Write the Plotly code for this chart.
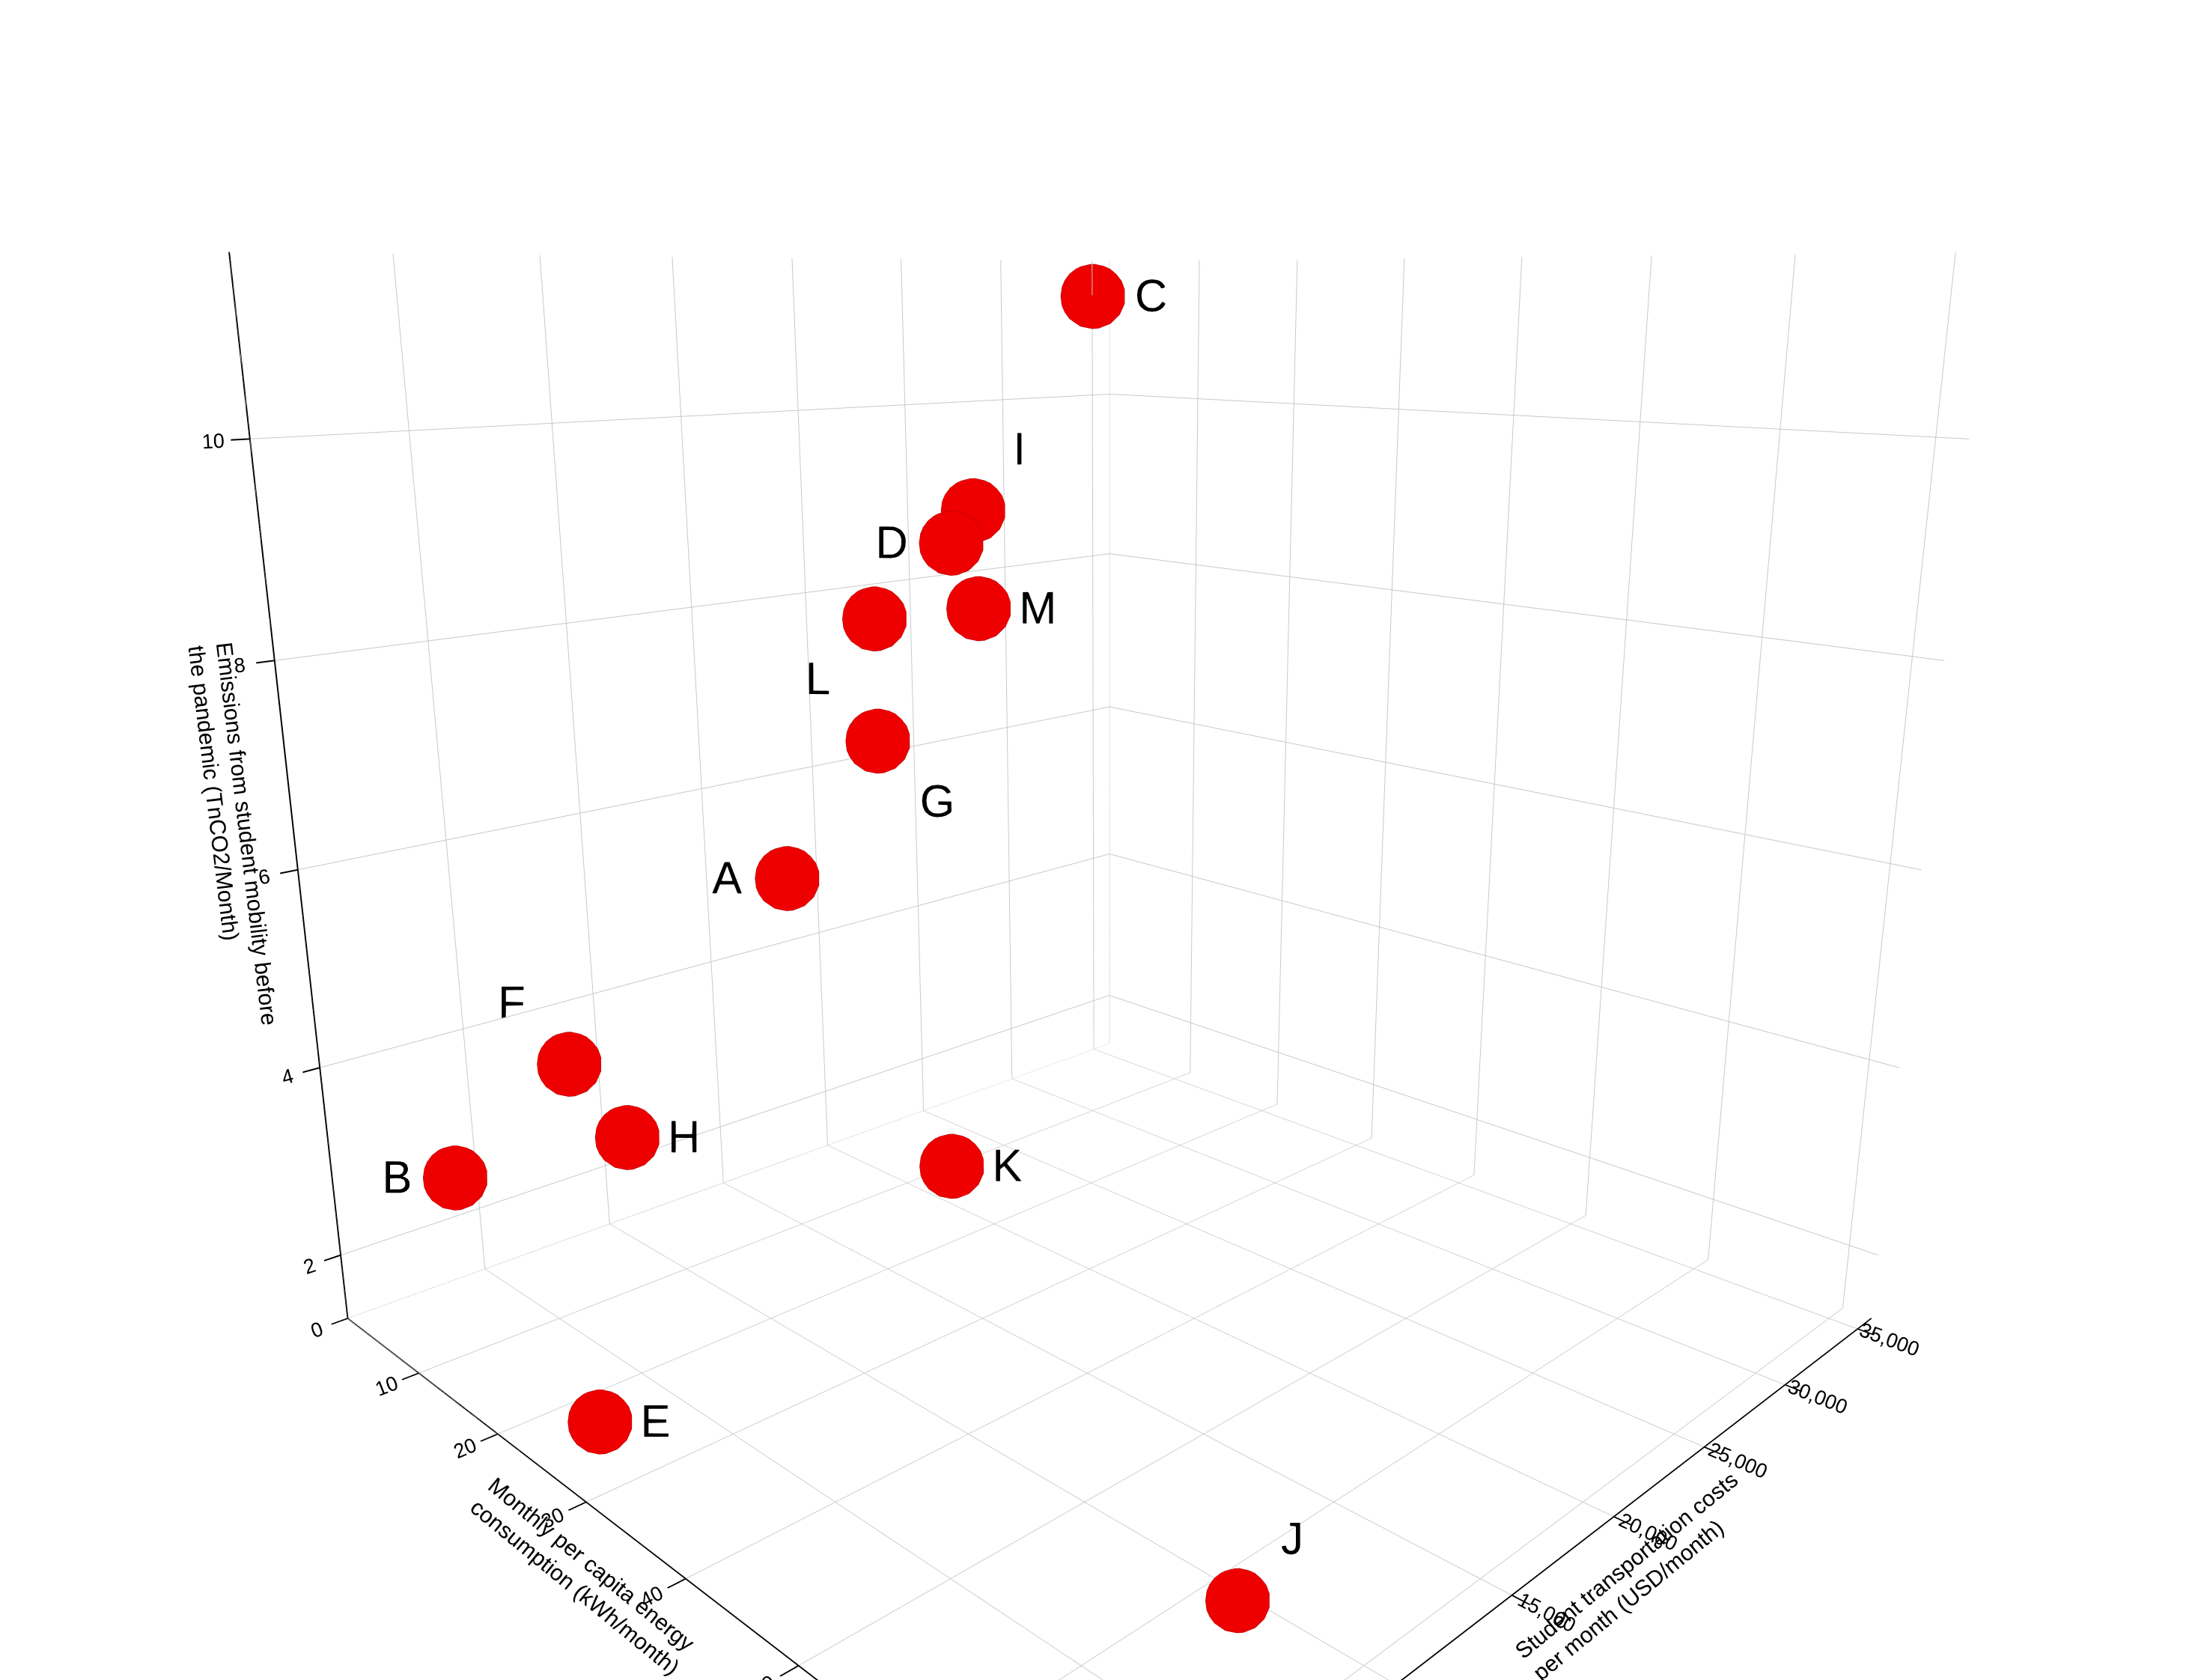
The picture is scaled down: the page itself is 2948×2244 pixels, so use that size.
import plotly.graph_objects as go

# Data (estimated)
labels = ["A", "B", "C", "D", "E", "F", "G", "H", "I", "J", "K", "L", "M"]
energy = [10, 5, 0, 5, 25, 3, 8, 10, 3, 65, 20, 3, 8]          # kWh/month
costs = [15000, 3000, 35000, 25000, 2000, 8000, 20000, 8000, 27000, 8000, 18000, 22000, 25000]
emissions = [5.3, 2.8, 11.2, 8.5, 1.5, 3.5, 6.5, 3.0, 8.8, 1.8, 2.2, 7.7, 7.8]
text_pos = ["middle left", "middle left", "middle right", "middle left", "middle right",
            "top left", "bottom right", "middle right", "top right", "top right",
            "middle right", "bottom left", "middle right"]

fig = go.Figure()
fig.add_trace(go.Scatter3d(
    x=energy, y=costs, z=emissions,
    mode="markers+text",
    text=labels,
    textposition=text_pos,
    textfont=dict(size=60, color="black", family="Liberation Sans"),
    marker=dict(size=50, color="#ee0000", line=dict(color="#aa0000", width=2), opacity=1),
))

axis_common = dict(
    showbackground=False,
    gridcolor="#c8c8c8",
    linecolor="black",
    linewidth=4,
    showline=True,
    ticks="outside",
    ticklen=20,
    tickwidth=4,
    tickcolor="black",
    tickfont=dict(size=18, family="Liberation Sans", color="black"),
)
title_font = dict(size=30, family="Liberation Sans", color="black")

fig.update_layout(
    width=2948, height=2244,
    paper_bgcolor="white",
    margin=dict(l=0, r=0, t=0, b=0),
    showlegend=False,
    font=dict(family="Liberation Sans"),
    scene=dict(
        xaxis=dict(axis_common, range=[0, 72], dtick=10,
                   title=dict(text="Monthly per capita energy<br>consumption (kWh/month)", font=title_font)),
        yaxis=dict(axis_common, range=[0, 36000], dtick=5000, tickformat=",",
                   title=dict(text="Student transportation costs<br>per month (USD/month)", font=title_font)),
        zaxis=dict(axis_common, range=[1.3, 11.6], dtick=2,
                   title=dict(text="Emissions from student mobility before<br>the pandemic (TnCO2/Month)", font=title_font)),
        camera=dict(eye=dict(x=1.2, y=-1.2, z=0.45), center=dict(x=0, y=0, z=-0.02)),
        aspectmode="manual",
        aspectratio=dict(x=1, y=1, z=0.95),
    ),
)

fig.write_html("out.html")
